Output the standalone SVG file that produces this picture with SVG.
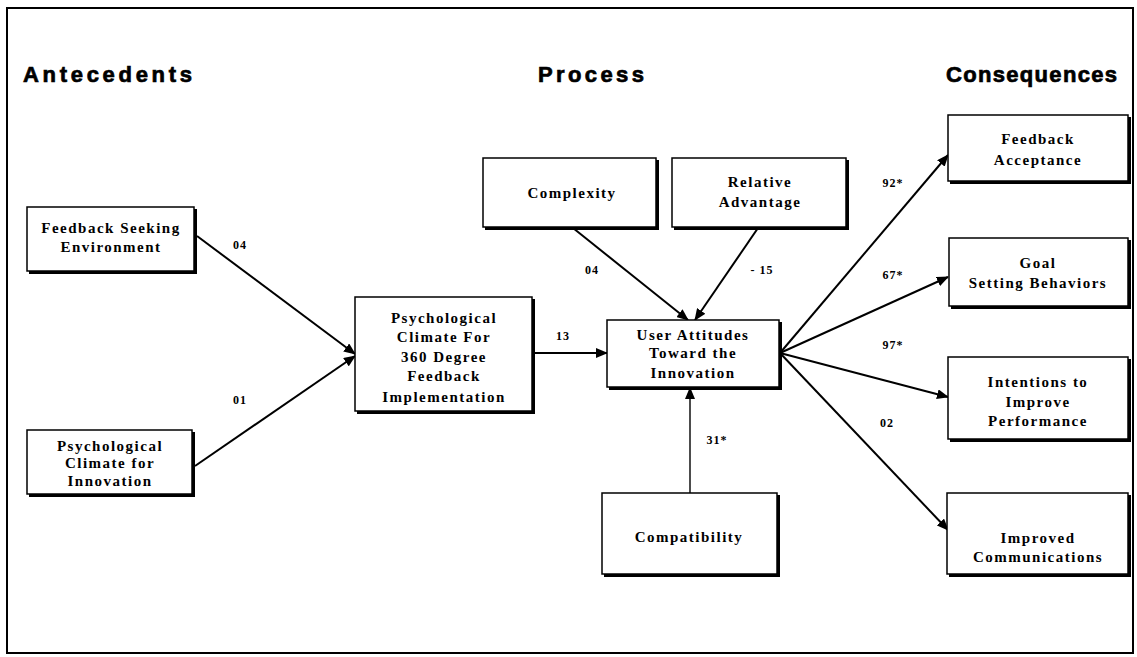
<svg xmlns="http://www.w3.org/2000/svg" width="1137" height="657" viewBox="0 0 1137 657">
<style>
.title{font-family:"Liberation Sans",Arial,sans-serif;font-weight:bold;font-size:22px;fill:#000;stroke:#000;stroke-width:0.7}
.box{fill:#fff;stroke:#000;stroke-width:1.5}
.shadow{fill:#000}
.t{font-family:"Liberation Serif","Times New Roman",serif;font-weight:bold;font-size:15px;letter-spacing:1.5px;text-anchor:middle;fill:#000}
.lbl{font-family:"Liberation Serif","Times New Roman",serif;font-weight:bold;font-size:12px;letter-spacing:1px;text-anchor:middle;fill:#000}
.c{stroke:#000;stroke-width:2;fill:none;marker-end:url(#ah)}
</style>
<defs>
<marker id="ah" markerUnits="userSpaceOnUse" markerWidth="12" markerHeight="10" refX="11" refY="5" orient="auto">
<path d="M0,0 L12,5 L0,10 z" fill="#000"/>
</marker>
</defs>
<rect x="0" y="0" width="1137" height="657" fill="#fff"/>
<rect x="7" y="8" width="1126" height="645" fill="none" stroke="#000" stroke-width="2"/>
<g id="titles">
<text class="title" x="23" y="82" textLength="169" lengthAdjust="spacing">Antecedents</text>
<text class="title" x="538" y="82" textLength="106" lengthAdjust="spacing">Process</text>
<text class="title" x="946" y="82" textLength="171" lengthAdjust="spacing">Consequences</text>
</g>
<g id="connectors">
<path class="c" d="M197,236 L355,354"/>
<path class="c" d="M195,466 L355,356"/>
<path class="c" d="M533,353 L607,353"/>
<path class="c" d="M573,228 L688,320"/>
<path class="c" d="M758,228 L695,320"/>
<path class="c" d="M690,493 L690,388" style="stroke-width:1.4"/>
<path class="c" d="M780,353 L948,155"/>
<path class="c" d="M780,353 L948,277"/>
<path class="c" d="M780,353 L948,397"/>
<path class="c" d="M780,353 L948,530"/>
<text class="lbl" x="240" y="249">04</text>
<text class="lbl" x="240" y="404">01</text>
<text class="lbl" x="563" y="340">13</text>
<text class="lbl" x="592" y="274">04</text>
<text class="lbl" x="762" y="274">- 15</text>
<text class="lbl" x="893" y="187">92*</text>
<text class="lbl" x="893" y="279">67*</text>
<text class="lbl" x="893" y="349">97*</text>
<text class="lbl" x="887" y="427">02</text>
<text class="lbl" x="717" y="444">31*</text>
</g>
<g id="fse">
<rect class="shadow" x="29" y="209" width="168" height="65"/>
<rect class="box" x="27" y="207" width="167" height="64"/>
<text class="t" x="111" y="233">Feedback Seeking</text>
<text class="t" x="111" y="252">Environment</text>
</g>
<g id="pci">
<rect class="shadow" x="29" y="432" width="166" height="65"/>
<rect class="box" x="27" y="430" width="165" height="64"/>
<text class="t" x="110" y="451">Psychological</text>
<text class="t" x="110" y="468">Climate for</text>
<text class="t" x="110" y="486">Innovation</text>
</g>
<g id="pc360">
<rect class="shadow" x="357" y="299" width="178" height="115"/>
<rect class="box" x="355" y="297" width="177" height="114"/>
<text class="t" x="444" y="323">Psychological</text>
<text class="t" x="444" y="342">Climate For</text>
<text class="t" x="444" y="362">360 Degree</text>
<text class="t" x="444" y="381">Feedback</text>
<text class="t" x="444" y="402">Implementation</text>
</g>
<g id="uat">
<rect class="shadow" x="609" y="322" width="173" height="68"/>
<rect class="box" x="607" y="320" width="172" height="67"/>
<text class="t" x="693" y="340">User Attitudes</text>
<text class="t" x="693" y="358">Toward the</text>
<text class="t" x="693" y="378">Innovation</text>
</g>
<g id="complexity">
<rect class="shadow" x="485" y="160" width="174" height="70"/>
<rect class="box" x="483" y="158" width="173" height="69"/>
<text class="t" x="572" y="198">Complexity</text>
</g>
<g id="relative">
<rect class="shadow" x="674" y="160" width="175" height="70"/>
<rect class="box" x="672" y="158" width="174" height="69"/>
<text class="t" x="760" y="187">Relative</text>
<text class="t" x="760" y="207">Advantage</text>
</g>
<g id="compat">
<rect class="shadow" x="604" y="495" width="176" height="82"/>
<rect class="box" x="602" y="493" width="175" height="81"/>
<text class="t" x="689" y="542">Compatibility</text>
</g>
<g id="fa">
<rect class="shadow" x="950" y="117" width="181" height="67"/>
<rect class="box" x="948" y="115" width="180" height="66"/>
<text class="t" x="1038" y="144">Feedback</text>
<text class="t" x="1038" y="165">Acceptance</text>
</g>
<g id="gsb">
<rect class="shadow" x="951" y="240" width="180" height="69"/>
<rect class="box" x="949" y="238" width="179" height="68"/>
<text class="t" x="1038" y="268">Goal</text>
<text class="t" x="1038" y="288">Setting Behaviors</text>
</g>
<g id="iip">
<rect class="shadow" x="950" y="359" width="181" height="83"/>
<rect class="box" x="948" y="357" width="180" height="82"/>
<text class="t" x="1038" y="387">Intentions to</text>
<text class="t" x="1038" y="407">Improve</text>
<text class="t" x="1038" y="426">Performance</text>
</g>
<g id="ic">
<rect class="shadow" x="949" y="495" width="182" height="82"/>
<rect class="box" x="947" y="493" width="181" height="81"/>
<text class="t" x="1038" y="543">Improved</text>
<text class="t" x="1038" y="562">Communications</text>
</g>
</svg>
